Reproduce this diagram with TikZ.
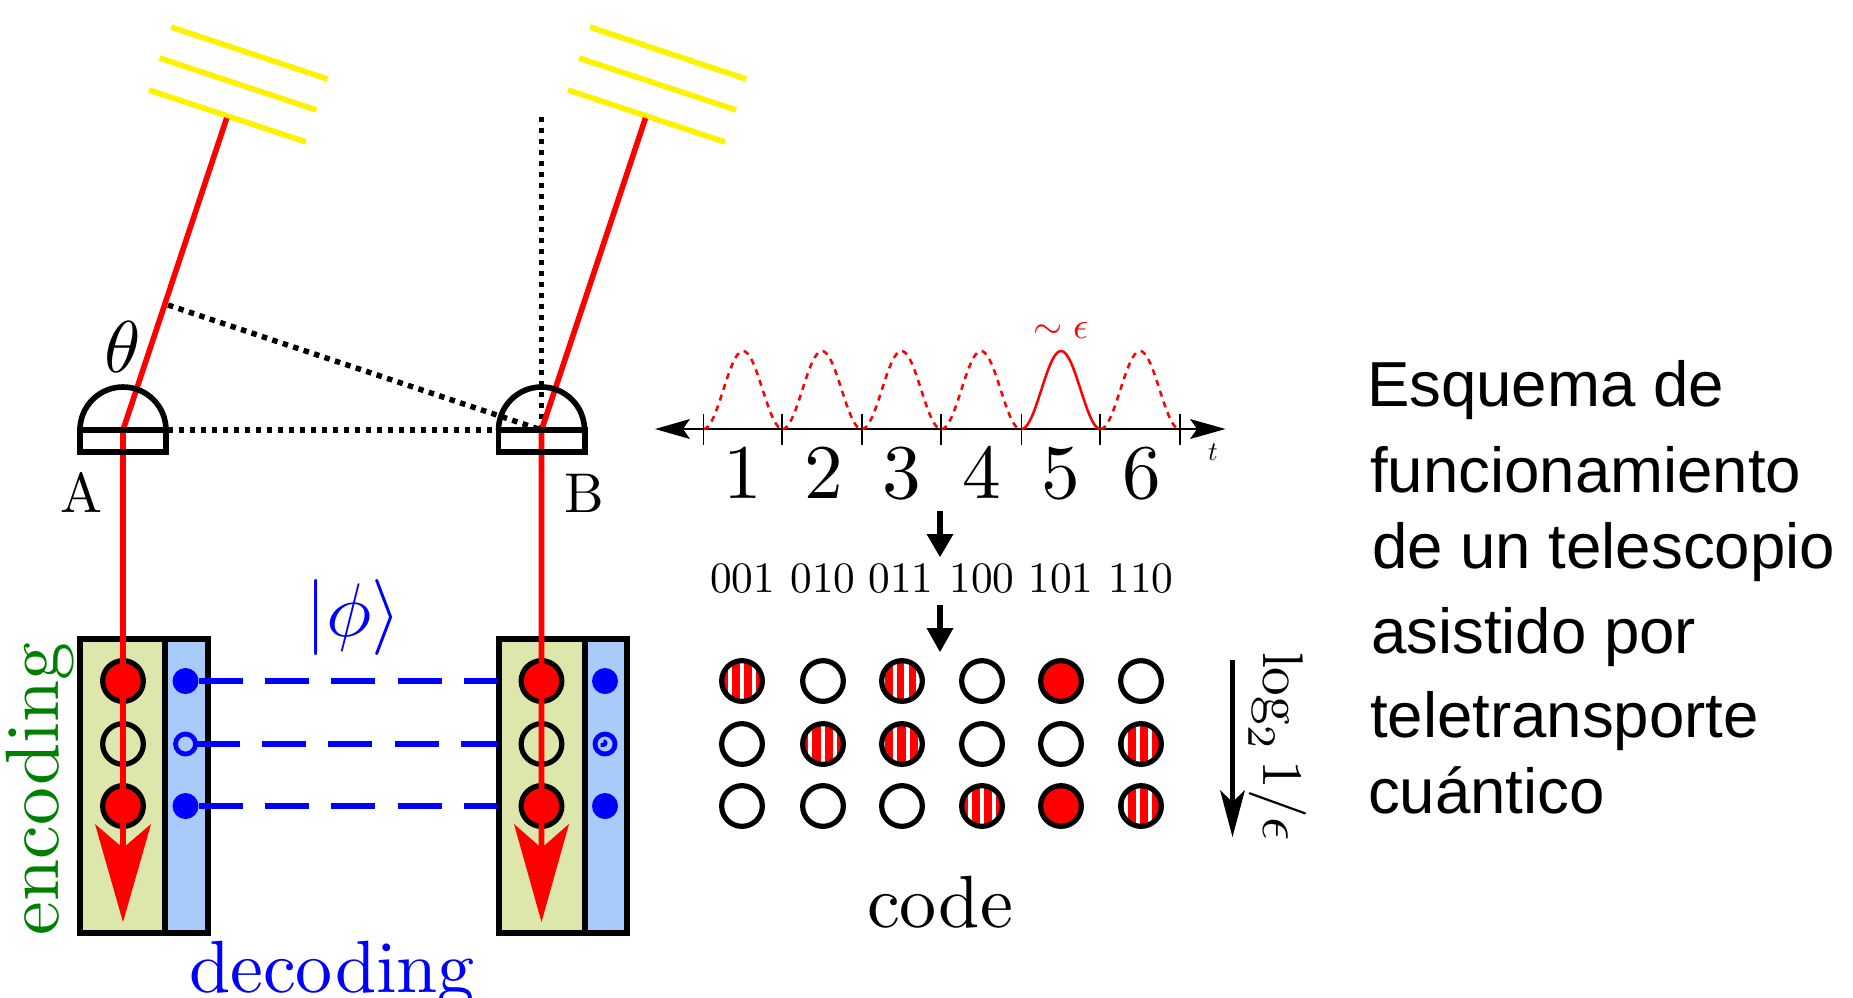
\documentclass[tikz,border=0pt]{standalone}
\usepackage{fontspec}
\newfontfamily\arialfont{Liberation Sans}
\usetikzlibrary{calc}
\definecolor{boxgreen}{RGB}{221,230,171}
\definecolor{boxblue}{RGB}{169,203,251}
\definecolor{enc}{RGB}{0,128,0}
\tikzset{
  lbl/.style={inner sep=0pt,outer sep=0pt},
  cell/.style={draw=black,line width=4.2pt,line join=miter},
  beam/.style={draw=red,line width=4.2pt},
  mirror/.style={draw=yellow,line width=4.2pt},
  dotline/.style={draw=black,line width=4.1pt,dash pattern=on 4.1pt off 4.15pt},
  qubit/.style={circle,draw=black,line width=3.9pt,inner sep=0pt,outer sep=0pt,minimum size=30.5pt},
  onqubit/.style={qubit,fill=red},
  stripes/.style={qubit,path picture={
    \fill[red] (path picture bounding box.south west) rectangle (path picture bounding box.north east);
    \foreach \d in {#1}{
      \fill[white] ($(path picture bounding box.center)+(\d-2.3,-30)$) rectangle ($(path picture bounding box.center)+(\d+2.3,30)$);
    }}},
  blueon/.style={circle,fill=blue,inner sep=0pt,outer sep=0pt,minimum size=19.5pt},
  bluering/.style={circle,draw=blue,line width=3.6pt,inner sep=0pt,outer sep=0pt,minimum size=15pt},
  link/.style={draw=blue,line width=4.2pt,dash pattern=on 33pt off 16.8pt},
  pulse/.style={draw=red,line width=1.9pt},
  shaft/.style={draw=black,line width=4pt},
  head/.style={fill=black},
  txt/.style={lbl,anchor=base west,font=\arialfont\fontsize{47.7}{47.7}\selectfont}
}
\begin{document}
\begin{tikzpicture}[x=0.75pt,y=-0.75pt]
\path[use as bounding box] (0,0) rectangle (1853,997);
\clip (0,0) rectangle (1853,997);

% mirrors
\draw[mirror] (171,27) -- (327.5,79);
\draw[mirror] (159.4,58) -- (316.5,110);
\draw[mirror] (149,90) -- (306,142);
\draw[mirror] (590,27) -- (746,79);
\draw[mirror] (579,58) -- (736,110);
\draw[mirror] (568,90) -- (725,142);

% named points
\coordinate (Ac) at (123,430);
\coordinate (Ae) at (168,430);
\coordinate (Bc) at (541.5,430);
\coordinate (Atop) at (226.7,118);
\coordinate (Btop) at (645.5,118);
\coordinate (Bup) at (541.5,117);
\coordinate (Afoot) at (168,305);
\coordinate (Aend) at (123,850);
\coordinate (Bend) at (541.5,850);

% dotted construction
\draw[dotline] (Bup) -- (Bc);
\draw[dotline] (Afoot) -- (Bc);
\draw[dotline] (Ae) -- (Bc);

% boxes
\path[fill=boxgreen] (80,639) rectangle (165,933);
\path[fill=boxblue] (165,639) rectangle (208,933);
\path[fill=boxgreen] (499,639) rectangle (585,933);
\path[fill=boxblue] (585,639) rectangle (627,933);
\draw[cell] (80,639) rectangle (208,933);
\draw[cell] (165,639) -- (165,933);
\draw[cell] (499,639) rectangle (627,933);
\draw[cell] (585,639) -- (585,933);

% qubits A
\node[onqubit] (a1) at (123,681) {};
\node[qubit] (a2) at (123,744) {};
\node[onqubit] (a3) at (123,806) {};
\node[onqubit] (b1) at (541.5,681) {};
\node[qubit] (b2) at (541.5,744) {};
\node[onqubit] (b3) at (541.5,806) {};

% blue
\node[blueon] (p1) at (185.5,681) {};
\node[bluering] (p2) at (185.5,744) {};
\node[blueon] (p3) at (185.5,806) {};
\node[blueon] (q1) at (605,681) {};
\node[bluering] (q2) at (605,744) {};
\node[blueon] (q3) at (605,806) {};
\draw[blue,line width=2.8pt] (600.5,745) -- (603.5,745) arc[start angle=90,end angle=-90,radius=2];
\coordinate (e1) at (497,681);
\coordinate (e2) at (497,744);
\coordinate (e3) at (497,806);
\draw[link] (p1.east) -- (e1);
\draw[link] (p2.east) -- (e2);
\draw[link] (p3.east) -- (e3);

% beams
\draw[beam] (Atop) -- (Ac) -- (Aend);
\draw[beam] (Btop) -- (Bc) -- (Bend);
\fill[red] (123,922) -- (95,824) -- (123,848) -- (151,824) -- cycle;
\fill[red] (541.5,922) -- (514,824) -- (541.5,848) -- (569,824) -- cycle;

% detectors
\draw[cell] (80,430) arc[start angle=180,end angle=360,x radius=43,y radius=43];
\draw[cell] (80,430) rectangle (166,452);
\draw[cell] (498.5,430) arc[start angle=180,end angle=360,x radius=43,y radius=43];
\draw[cell] (498.5,430) rectangle (585,452);

% left labels
\node[lbl,scale=5.5] (theta) at (123,347) {$\theta$};
\node[lbl,scale=4.2,anchor=base] (labA) at (81,512) {A};
\node[lbl,scale=4.2,anchor=base] (labB) at (584,512) {B};
\node[lbl,scale=5.7,text=blue] (ket) at (353,617) {$|\phi\rangle$};
\node[lbl,scale=5.68,text=enc,rotate=90,anchor=base] (encl) at (58,789) {encoding};
\node[lbl,scale=5.55,text=blue,anchor=base] (decl) at (332,992) {decoding};

% time axis
\coordinate (axL) at (683,429);
\coordinate (axR) at (1197,429);
\draw[black,line width=2.2pt] (axL) -- (axR);
\fill (655,429) -- (690,419) -- (683,429) -- (690,439) -- cycle;
\fill (1225.5,429) -- (1190,419) -- (1197,429) -- (1190,439) -- cycle;
\foreach \tx in {703.5,782,862,941,1021.5,1100,1180}
  \draw[black,line width=1.3pt] (\tx,414) -- (\tx,445);
\foreach \c in {743,822,901.5,981,1140}
  \draw[pulse,dash pattern=on 4.5pt off 4pt] plot[domain=-39.5:39.5,samples=50,smooth] ({\c+\x},{429-78*(cos(\x*90/39.5))^2});
\draw[pulse] plot[domain=-39.5:39.5,samples=50,smooth] ({1061+\x},{429-78*(cos(\x*90/39.5))^2});
\node[lbl,scale=2.0,anchor=base] (tlab) at (1213,460) {$t$};
\node[lbl,scale=2.8,text=red] (eps) at (1061,330) {$\sim\epsilon$};

% digits
\foreach \n/\px in {1/743,2/824,3/902,4/982,5/1061,6/1142}
  \node[lbl,scale=5.8,anchor=base] (d\n) at (\px,498) {\n};
\foreach \n/\s/\px in {1/001/742.6,2/010/823,3/011/901,4/100/982,5/101/1061,6/110/1141}
  \node[lbl,scale=3.25,anchor=base] (bin\n) at (\px,592) {\s};

% small arrows
\coordinate (ar1a) at (940,511);
\coordinate (ar1b) at (940,536);
\draw[shaft] (ar1a) -- (ar1b);
\fill (940,557) -- (926.5,534) -- (953.5,534) -- cycle;
\coordinate (ar2a) at (940,605);
\coordinate (ar2b) at (940,630);
\draw[shaft] (ar2a) -- (ar2b);
\fill (940,652) -- (926.5,628) -- (953.5,628) -- cycle;

% code grid
\node[stripes={-12,0,12}] (c11) at (742,681) {};
\node[qubit] (c12) at (823,681) {};
\node[stripes={-19.5,-7,4.5,16}] (c13) at (902,681) {};
\node[qubit] (c14) at (982,681) {};
\node[onqubit] (c15) at (1061,681) {};
\node[qubit] (c16) at (1141,681) {};
\node[qubit] (c21) at (742,744) {};
\node[stripes={-13,0,12}] (c22) at (823,744) {};
\node[stripes={-19,-7,6,18}] (c23) at (902,744) {};
\node[qubit] (c24) at (982,744) {};
\node[qubit] (c25) at (1061,744) {};
\node[stripes={-15,-3,9}] (c26) at (1141,744) {};
\node[qubit] (c31) at (742,806) {};
\node[qubit] (c32) at (823,806) {};
\node[qubit] (c33) at (902,806) {};
\node[stripes={-12,0,12}] (c34) at (982,806) {};
\node[onqubit] (c35) at (1061,806) {};
\node[stripes={-15,-3,9}] (c36) at (1141,806) {};

% log arrow
\coordinate (la) at (1232.5,660);
\coordinate (lb) at (1232.5,805);
\draw[shaft] (la) -- (lb);
\fill (1232.5,837) -- (1220,790) -- (1232.5,802) -- (1245,790) -- cycle;
\node[lbl,scale=4.3,rotate=-90,anchor=base west] (loglab) at (1263,652) {$\log_2 1/\epsilon$};
\node[lbl,scale=5.55,anchor=base] (codelab) at (940,927) {code};

% caption
\node[txt] (t1) at (1367,406) {Esquema de};
\node[txt] (t2) at (1370,492) {funcionamiento};
\node[txt] (t3) at (1372,568) {de un telescopio};
\node[txt] (t4) at (1371,653) {asistido por};
\node[txt] (t5) at (1370,737) {teletransporte};
\node[txt] (t6) at (1368,813) {cuántico};
\end{tikzpicture}
\end{document}
